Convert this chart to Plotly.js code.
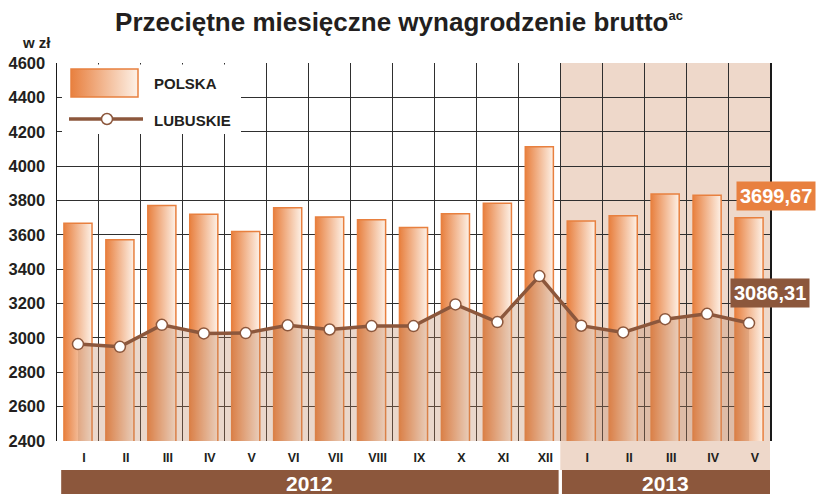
<!DOCTYPE html>
<html><head><meta charset="utf-8">
<script src="https://cdn.plot.ly/plotly-3.0.1.min.js"></script>
<style>html,body{margin:0;padding:0;background:#fff}#chart{width:816px;height:494px}</style>
</head><body><div id="chart"></div>
<script>
// ---- data ----
const months = ['I','II','III','IV','V','VI','VII','VIII','IX','X','XI','XII','I','II','III','IV','V'];
const years = ['2012','2013'];
const monthsPerYear = [12, 5];
const polska = [3667,3571,3771,3719,3620,3758,3703,3687,3643,3722,3784,4113,3681,3711,3837,3831,3699.67];
const lubuskie = [2964,2948,3076,3026,3028,3073,3049,3069,3069,3195,3092,3360,3071,3032,3109,3140,3086.31];
const yTicks = [2400,2600,2800,3000,3200,3400,3600,3800,4000,4200,4400,4600];
const seriesNames = ['POLSKA','LUBUSKIE'];
const unitLabel = 'w zł';
const titleMain = 'Przeciętne miesięczne wynagrodzenie brutto';
const titleSup = 'ac';

// ---- style ----
const ORANGE = '#e8803f', BROWN = '#8c573c', SHADE = '#eed8ca', DARK = '#231f20';
const FONT = 'Liberation Sans, Arial, sans-serif';
const M = {l:57, r:46, t:63, b:53};
const W = 816 - M.l - M.r, H = 494 - M.t - M.b;
const px = p => (p - M.l) / W;          // pixel x -> paper x
const py = p => (494 - M.b - p) / H;    // pixel y -> paper y

const xs = months.map((m, i) => i);
const fmt = v => v.toFixed(2).replace('.', ',');
const last = xs.length - 1;

const traces = [
  {type:'bar', x: xs, y: polska, name: seriesNames[0], width: 0.67,
   marker:{color:ORANGE, line:{color:ORANGE, width:1.5}}, showlegend:false, hoverinfo:'skip'},
  {type:'scatter', mode:'lines+markers', x: xs, y: lubuskie, name: seriesNames[1],
   fill:'tozeroy', fillcolor:'rgba(190,131,93,0.32)',
   line:{color:BROWN, width:3.5},
   marker:{size:11, color:'#ffffff', line:{color:BROWN, width:1.5}},
   showlegend:false, hoverinfo:'skip', cliponaxis:false}
];

// year segment boundaries
const yStart = [], yEnd = [];
let acc = 0;
monthsPerYear.forEach(n => { yStart.push(acc - 0.5); yEnd.push(acc + n - 0.5); acc += n; });

const shapes = [
  {type:'rect', xref:'x', yref:'paper', x0:yStart[1], x1:yEnd[1], y0:py(470), y1:1,
   fillcolor:SHADE, line:{width:0}, layer:'below'},
  {type:'rect', xref:'x', yref:'paper', x0:yStart[0]+0.1, x1:yEnd[0]-0.04, y0:py(498), y1:py(470),
   fillcolor:BROWN, line:{width:0}, layer:'above'},
  {type:'rect', xref:'x', yref:'paper', x0:yStart[1]+0.04, x1:yEnd[1], y0:py(498), y1:py(470),
   fillcolor:BROWN, line:{width:0}, layer:'above'},
  {type:'rect', xref:'paper', yref:'paper', x0:px(62), x1:px(241), y0:py(134), y1:py(64.5),
   fillcolor:'#ffffff', line:{width:0}, layer:'above'},
  {type:'rect', xref:'paper', yref:'paper', x0:px(71), x1:px(138), y0:py(97), y1:py(69),
   fillcolor:'rgb(233,129,65)', line:{color:ORANGE, width:1.5}, layer:'above'},
  {type:'line', xref:'paper', yref:'paper', x0:px(69), x1:px(143), y0:py(119), y1:py(119),
   line:{color:BROWN, width:3.5}, layer:'above'},
  {type:'circle', xref:'paper', yref:'paper', xsizemode:'pixel', ysizemode:'pixel',
   xanchor:px(107), yanchor:py(119), x0:-5.5, x1:5.5, y0:-5.5, y1:5.5,
   fillcolor:'#ffffff', line:{color:BROWN, width:1.5}, layer:'above'}
];

const annotations = [
  {xref:'paper', yref:'paper', x:px(152), y:py(83), xanchor:'left', yanchor:'middle', showarrow:false,
   text:seriesNames[0], font:{family:FONT, size:15, color:DARK, weight:'bold'}},
  {xref:'paper', yref:'paper', x:px(152), y:py(120), xanchor:'left', yanchor:'middle', showarrow:false,
   text:seriesNames[1], font:{family:FONT, size:15, color:DARK, weight:'bold'}},
  {xref:'paper', yref:'paper', x:px(53), y:py(43), xanchor:'right', yanchor:'middle', showarrow:false,
   text:unitLabel, font:{family:FONT, size:15, color:DARK, weight:'bold'}},
  {xref:'x', yref:'paper', x:(yStart[0]+0.1+yEnd[0]-0.04)/2, y:py(483), showarrow:false, yanchor:'middle',
   text:years[0], font:{family:FONT, size:21, color:'#ffffff', weight:'bold'}},
  {xref:'x', yref:'paper', x:(yStart[1]+0.04+yEnd[1])/2, y:py(483), showarrow:false, yanchor:'middle',
   text:years[1], font:{family:FONT, size:21, color:'#ffffff', weight:'bold'}},
  {xref:'x', yref:'y', x:last, y:polska[last], xshift:27, yshift:22, showarrow:false,
   text:fmt(polska[last]), bgcolor:ORANGE, borderpad:3,
   font:{family:FONT, size:20, color:'#ffffff', weight:'bold'}},
  {xref:'x', yref:'y', x:last, y:lubuskie[last], xshift:21, yshift:30, showarrow:false,
   text:fmt(lubuskie[last]), bgcolor:BROWN, borderpad:3,
   font:{family:FONT, size:20, color:'#ffffff', weight:'bold'}}
];

const layout = {
  width:816, height:494, margin:M,
  paper_bgcolor:'#ffffff', plot_bgcolor:'#ffffff',
  title:{text: titleMain + '<sup><span style="font-size:13px">' + titleSup + '</span></sup>',
         x:0.489, xref:'container', xanchor:'center', y:0.955, yanchor:'middle',
         font:{family:FONT, size:26, color:DARK, weight:'bold'}},
  xaxis:{range:[-0.5, last + 0.5], tickmode:'array', tickvals:xs, ticktext:months,
         showgrid:false, zeroline:false, showline:false, ticks:'',
         ticklabelshift:6, ticklabelstandoff:7,
         tickfont:{family:FONT, size:12.5, color:DARK, weight:'bold'},
         minor:{tickmode:'linear', tick0:-0.5, dtick:1, showgrid:true, gridcolor:'#2f2f2f', gridwidth:1, ticks:''}},
  yaxis:{range:[2400, 4600], tickmode:'array', tickvals:yTicks, ticktext:yTicks.map(String),
         showgrid:true, gridcolor:'#2f2f2f', gridwidth:1, zeroline:false,
         showline:true, mirror:true, linecolor:'#1a1a1a', linewidth:1.5, ticks:'',
         ticklabelstandoff:7,
         tickfont:{family:FONT, size:16.5, color:DARK, weight:'bold'}},
  shapes:shapes, annotations:annotations, showlegend:false
};

Plotly.newPlot('chart', traces, layout, {staticPlot:true, displayModeBar:false}).then(gd => {
  const svg = gd.querySelector('.main-svg');
  const defs = svg.querySelector('defs');
  const NS = 'http://www.w3.org/2000/svg';
  const g = document.createElementNS(NS, 'linearGradient');
  g.setAttribute('id', 'polGrad'); g.setAttribute('x1','0'); g.setAttribute('y1','0');
  g.setAttribute('x2','1'); g.setAttribute('y2','0');
  [['0','#e8803f'],['1','#fdf1e7']].forEach(([o,c]) => {
    const s = document.createElementNS(NS, 'stop');
    s.setAttribute('offset', o); s.setAttribute('stop-color', c); g.appendChild(s);
  });
  defs.appendChild(g);
  gd.querySelectorAll('.barlayer .trace.bars .point path').forEach(p => { p.style.fill = 'url(#polGrad)'; });
  gd.querySelectorAll('.shapelayer path').forEach(p => {
    if ((p.style.fill || '').replace(/\s/g,'') === 'rgb(233,129,65)') p.style.fill = 'url(#polGrad)';
  });
});
</script>
</body></html>
